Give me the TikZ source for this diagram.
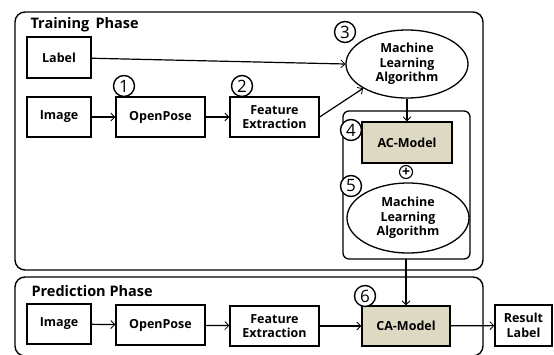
\documentclass[tikz,border=0pt]{standalone}
\usepackage{fontspec}
\setmainfont{Open Sans}
\usepackage{xcolor}
\definecolor{modelfill}{HTML}{DDD9C3}
\usetikzlibrary{arrows.meta, shapes.geometric}

\begin{document}
\begin{tikzpicture}[x=1pt, y=-1pt,
    box/.style = {draw, line width=1.3pt, fill=white, align=center, inner sep=0pt,
                  font=\bfseries\fontsize{12.5}{14.5}\selectfont},
    model/.style = {box, fill=modelfill},
    algo/.style = {draw, ellipse, line width=1.3pt, fill=white, align=center, inner sep=0pt,
                   font=\bfseries\fontsize{12.5}{14.5}\selectfont},
    num/.style = {draw, circle, line width=1.4pt, fill=white, inner sep=0pt, minimum size=21pt,
                  font=\fontsize{17}{17}\selectfont},
    phase/.style = {draw, line width=1.4pt, rounded corners=10pt},
    flow/.style = {line width=1.2pt, -{Straight Barb[length=4pt, width=8pt, line width=0.8pt]}}]
        \useasboundingbox (0,0) rectangle (554,354);

        % Phases
        \draw[phase] (15,12) rectangle (483,270);
        \draw[phase] (15,277) rectangle (483,356);
        \node (train) at (27,25) [anchor=west, font=\bfseries\fontsize{14.5}{16}\selectfont] {Training\, Phase};
        \node (pred) at (28,291) [anchor=west, font=\bfseries\fontsize{14.5}{16}\selectfont] {Prediction Phase};

        % Training
        \node (lbl) at (59,57.5) [box, minimum width=64pt, minimum height=41pt] {Label};
        \node (img1) at (59,117) [box, minimum width=64pt, minimum height=40pt] {Image};
        \node (op1) at (160.5,117) [box, minimum width=89pt, minimum height=40pt] {OpenPose};
        \node (fe1) at (274.5,117) [box, minimum width=89pt, minimum height=40pt] {Feature\\Extraction};
        \node (mla1) at (407,64) [algo, minimum width=122pt, minimum height=68pt] {Machine\\Learning\\Algorithm};

        \draw[line width=1.3pt, rounded corners=6pt] (343,111) rectangle (470,259);
        \coordinate (inner) at (406,259);
        \node (ac) at (407,142.5) [model, minimum width=90pt, minimum height=41pt] {AC-Model};
        \node (plus) at (406,172) [draw, circle, line width=1.1pt, fill=white, inner sep=0pt, minimum size=13pt,
                                   font=\bfseries\fontsize{14}{14}\selectfont] {+};
        \node (mla2) at (408,218) [algo, minimum width=122pt, minimum height=70pt] {Machine\\Learning\\Algorithm};

        % Prediction
        \node (img2) at (59,324) [box, minimum width=64pt, minimum height=40pt] {Image};
        \node (op2) at (160.5,325) [box, minimum width=89pt, minimum height=40pt] {OpenPose};
        \node (fe2) at (274.5,326) [box, minimum width=89pt, minimum height=40pt] {Feature\\Extraction};
        \node (ca) at (406,326) [model, minimum width=88pt, minimum height=40pt] {CA-Model};
        \node (res) at (523.5,325.5) [box, minimum width=57pt, minimum height=41pt] {Result\\Label};

        % Flow
        \draw[flow] (lbl) -- (mla1.west);
        \draw[flow] (img1) -- (op1);
        \draw[flow] (op1) -- (fe1);
        \draw[flow] (fe1.east) -- (mla1.209);
        \draw[flow] (mla1) -- (ac);
        \draw[flow] (inner) -- (ca);
        \draw[flow] (img2) -- (op2);
        \draw[flow] (op2) -- (fe2);
        \draw[flow] (fe2) -- (ca);
        \draw[flow] (ca) -- (res);

        % Steps
        \node (s1) at (124,86) [num] {1};
        \node (s2) at (242,86) [num] {2};
        \node (s3) at (345,32) [num] {3};
        \node (s4) at (351,130) [num] {4};
        \node (s5) at (351,186) [num] {5};
        \node (s6) at (365,296) [num] {6};
    \end{tikzpicture}
\end{document}
